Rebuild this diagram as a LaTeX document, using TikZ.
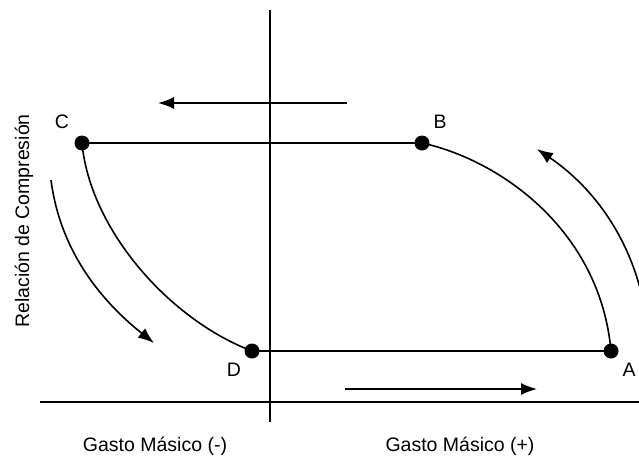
\documentclass[tikz,border=0pt]{standalone}
\usepackage{fontspec}
\setmainfont{Liberation Sans}
\usetikzlibrary{arrows.meta}
\begin{document}
\begin{tikzpicture}[x=1pt,y=-1pt,
  axisline/.style={line width=2.8pt},
  thinline/.style={line width=1.6pt},
  pt/.style={circle,fill=black,inner sep=0pt,minimum size=15pt},
  lbl/.style={font=\fontsize{19.5}{22}\selectfont,inner sep=0pt},
  flow/.style={line width=1.6pt,-{Latex[length=16pt,width=12pt]}}]
\useasboundingbox (0,0) rectangle (639,461);
\clip (0,0) rectangle (639,461);
\fill[white] (0,0) rectangle (639,461);
% axes
\coordinate (vt) at (270,10);
\coordinate (vb) at (270,422);
\coordinate (hl) at (40,402);
\coordinate (hr) at (640,402);
\draw[axisline] (vt) -- (vb);
\draw[axisline] (hl) -- (hr);
% points
\node[pt] (C) at (82,143) {};
\node[pt] (B) at (422,143) {};
\node[pt] (D) at (252,351) {};
\node[pt] (A) at (611,351) {};
\draw[thinline] (C.center) -- (B.center);
\draw[thinline] (D.center) -- (A.center);
\draw[thinline] (B.center) .. controls (500,160) and (600,230) .. (A.center);
\draw[thinline] (C.center) .. controls (90,230) and (170,320) .. (D.center);
% labels
\node[lbl] (lC) at (62,122) {C};
\node[lbl] (lB) at (440,122) {B};
\node[lbl] (lD) at (234,370) {D};
\node[lbl] (lA) at (629,370) {A};
\node[lbl,rotate=90] (ylab) at (24,221) {Relación de Compresión};
\node[lbl] (xneg) at (155,446) {Gasto Másico (-)};
\node[lbl] (xpos) at (460,446) {Gasto Másico (+)};
% flow arrows
\coordinate (t1) at (347,103);
\coordinate (t2) at (158,103);
\draw[flow] (t1) -- (t2);
\coordinate (b1) at (345,389);
\coordinate (b2) at (537,389);
\draw[flow] (b1) -- (b2);
\coordinate (l1) at (51,180);
\coordinate (l2) at (154,343);
\draw[flow] (l1) .. controls (60,250) and (100,300) .. (l2);
\coordinate (r1) at (642,296);
\coordinate (r2) at (537,149);
\draw[flow] (r1) .. controls (627,232) and (590,185) .. (r2);
\end{tikzpicture}
\end{document}
